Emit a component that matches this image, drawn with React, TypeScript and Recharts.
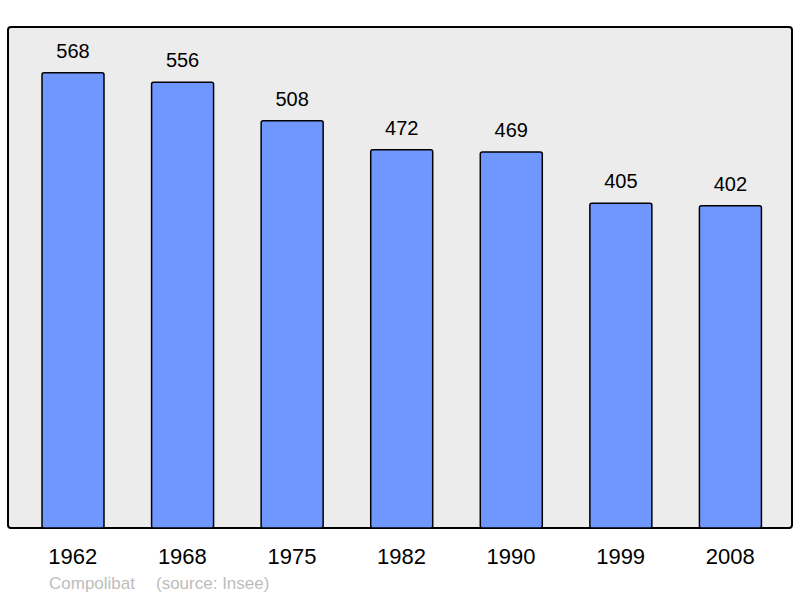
import { BarChart, Bar, XAxis, YAxis, LabelList, ReferenceArea } from "recharts";

// ── Data ──────────────────────────────────────────────────────────────────────

const YEARS = ["1962", "1968", "1975", "1982", "1990", "1999", "2008"];
const POPULATION = [568, 556, 508, 472, 469, 405, 402];

const data = YEARS.map((year, i) => ({ year, value: POPULATION[i] }));

// ── Styles ────────────────────────────────────────────────────────────────────

const FONT = "'Liberation Sans', Arial, sans-serif";
const BAR_COLOR = "#7096ff";
const PLOT_BG = "#ececec";
const PAD_LEFT = 10;
const PAD_RIGHT = 7;

// Frame behind the bars, widened by the x-axis padding so it fills the plot box
function PlotFrame(props: any) {
  const { x, y, width, height } = props;
  return (
    <rect
      x={x - PAD_LEFT}
      y={y}
      width={width + PAD_LEFT + PAD_RIGHT}
      height={height}
      rx={3}
      ry={3}
      fill={PLOT_BG}
      stroke="#000"
      strokeWidth={2}
    />
  );
}

export default function App() {
  return (
    <div
      style={{
        position: "absolute",
        left: 0,
        top: 0,
        width: 800,
        height: 598,
        background: "#fff",
        fontFamily: FONT,
      }}
    >
      <BarChart
        width={800}
        height={598}
        data={data}
        margin={{ top: 27, right: 8, bottom: 40, left: 8 }}
        barSize={62}
      >
        <XAxis
          dataKey="year"
          height={30}
          axisLine={false}
          tickLine={false}
          tickMargin={14}
          padding={{ left: PAD_LEFT, right: PAD_RIGHT }}
          tick={{ fontSize: 22, fill: "#000", fontFamily: FONT }}
          interval={0}
        />
        <YAxis hide domain={[0, 625]} />
        <ReferenceArea y1={0} y2={625} shape={<PlotFrame />} ifOverflow="visible" />
        <Bar
          dataKey="value"
          fill={BAR_COLOR}
          stroke="#000"
          strokeWidth={1.5}
          radius={2}
          isAnimationActive={false}
        >
          <LabelList
            dataKey="value"
            position="top"
            offset={15}
            style={{ fontSize: 20, fill: "#000", fontFamily: FONT }}
          />
        </Bar>
      </BarChart>
      <div
        style={{
          position: "absolute",
          left: 49,
          top: 574,
          fontSize: 17,
          color: "#bdbdbd",
        }}
      >
        Compolibat
      </div>
      <div
        style={{
          position: "absolute",
          left: 156,
          top: 574,
          fontSize: 17,
          color: "#bdbdbd",
        }}
      >
        (source: Insee)
      </div>
    </div>
  );
}
